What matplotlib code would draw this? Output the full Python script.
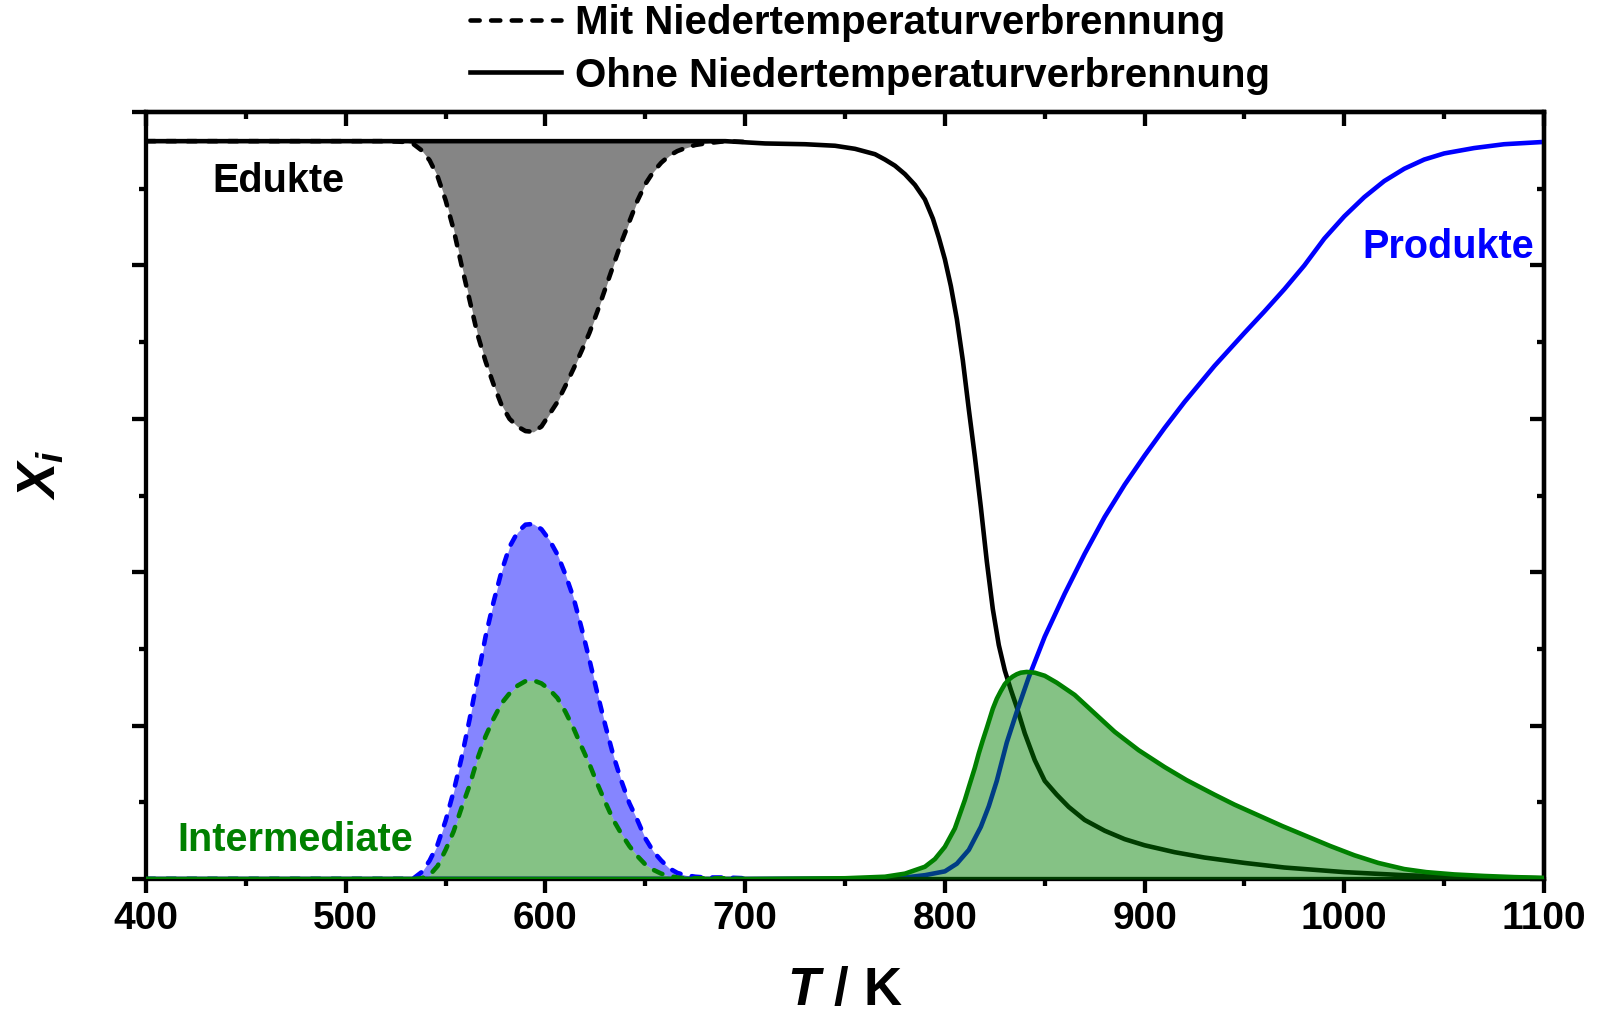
import numpy as np
import matplotlib
matplotlib.use('Agg')
import matplotlib.pyplot as plt
from matplotlib.ticker import MultipleLocator

plt.rcParams['font.family'] = ['Liberation Sans', 'DejaVu Sans']
plt.rcParams['font.weight'] = 'bold'
plt.rcParams['mathtext.fontset'] = 'custom'
plt.rcParams['mathtext.it'] = 'Liberation Sans:italic:bold'
plt.rcParams['mathtext.rm'] = 'Liberation Sans:bold'
plt.rcParams['mathtext.bf'] = 'Liberation Sans:bold'

# --- ohne Niedertemperaturverbrennung (durchgezogen) ---
T_edukte = [400, 500, 600, 680, 690, 710, 730, 745, 755, 765, 770, 775, 780, 785, 790, 794,
            797, 800, 803, 806, 809, 812, 815, 818, 821, 824, 827, 830, 833, 836, 840, 845,
            850, 856, 862, 870, 880, 890, 900, 915, 930, 950, 970, 1000, 1030, 1060, 1100]
edukte = [0.962, 0.962, 0.962, 0.962, 0.962, 0.959, 0.958, 0.956, 0.952, 0.945, 0.938, 0.930,
          0.919, 0.905, 0.886, 0.861, 0.836, 0.808, 0.773, 0.730, 0.676, 0.612, 0.551, 0.485,
          0.414, 0.352, 0.305, 0.272, 0.247, 0.224, 0.190, 0.155, 0.128, 0.110, 0.094, 0.077,
          0.063, 0.052, 0.044, 0.035, 0.028, 0.021, 0.015, 0.009, 0.005, 0.0025, 0.001]

T_produkte = [400, 700, 760, 780, 790, 800, 806, 812, 818, 822, 826, 831, 836, 842, 850, 860,
              870, 880, 890, 900, 910, 920, 935, 950, 960, 970, 980, 990, 1000, 1010, 1020,
              1030, 1040, 1050, 1065, 1080, 1100]
produkte = [0.0, 0.0, 0.0005, 0.002, 0.005, 0.010, 0.020, 0.038, 0.068, 0.095, 0.128, 0.178,
            0.218, 0.263, 0.316, 0.372, 0.424, 0.472, 0.514, 0.552, 0.588, 0.622, 0.669, 0.712,
            0.740, 0.769, 0.800, 0.835, 0.864, 0.889, 0.910, 0.926, 0.938, 0.946, 0.953, 0.958,
            0.961]

T_inter = [400, 700, 750, 770, 780, 790, 795, 800, 805, 810, 812, 815, 817, 819, 821, 824, 826,
           828, 830, 832, 834, 836, 838, 841, 845, 850, 856, 865, 875, 885, 897, 910, 921, 935,
           945, 957, 969, 981, 993, 1005, 1017, 1030, 1041, 1055, 1070, 1085, 1100]
inter = [0.0, 0.0, 0.001, 0.003, 0.007, 0.016, 0.026, 0.042, 0.066, 0.103, 0.120, 0.145, 0.164,
         0.181, 0.197, 0.222, 0.235, 0.245, 0.254, 0.260, 0.264, 0.267, 0.269, 0.270, 0.269,
         0.265, 0.256, 0.240, 0.216, 0.192, 0.168, 0.146, 0.129, 0.110, 0.097, 0.083, 0.069,
         0.056, 0.043, 0.031, 0.021, 0.013, 0.009, 0.006, 0.004, 0.0025, 0.0015]

# --- mit Niedertemperaturverbrennung (gestrichelt) ---
T_mit = [400, 520, 530, 534, 538, 542, 546, 550, 554, 558, 562, 566, 570, 574, 578, 582, 586,
         590, 594, 598, 602, 606, 610, 614, 618, 622, 626, 630, 634, 638, 642, 646, 650, 654,
         658, 662, 666, 670, 675, 680, 690, 700]
edukte_mit = [0.962, 0.962, 0.961, 0.958, 0.950, 0.937, 0.916, 0.885, 0.847, 0.800, 0.755,
              0.710, 0.675, 0.645, 0.618, 0.600, 0.590, 0.584, 0.583, 0.590, 0.606, 0.622,
              0.643, 0.665, 0.688, 0.712, 0.740, 0.770, 0.800, 0.830, 0.857, 0.884, 0.906,
              0.922, 0.934, 0.943, 0.949, 0.953, 0.957, 0.959, 0.962, 0.961]
produkte_mit = [0.0, 0.0, 0.0, 0.001, 0.009, 0.024, 0.045, 0.076, 0.114, 0.158, 0.208, 0.262,
                0.316, 0.361, 0.401, 0.433, 0.452, 0.462, 0.463, 0.456, 0.442, 0.423, 0.397,
                0.367, 0.328, 0.286, 0.242, 0.200, 0.161, 0.128, 0.099, 0.077, 0.053, 0.036,
                0.024, 0.014, 0.008, 0.005, 0.003, 0.002, 0.002, 0.001]
inter_mit = [0.0, 0.0, 0.0, 0.0, 0.001, 0.005, 0.017, 0.038, 0.062, 0.093, 0.122, 0.157, 0.186,
             0.209, 0.229, 0.242, 0.252, 0.258, 0.259, 0.255, 0.247, 0.236, 0.218, 0.197,
             0.173, 0.150, 0.124, 0.100, 0.077, 0.059, 0.043, 0.030, 0.019, 0.012, 0.007,
             0.004, 0.002, 0.001, 0.001, 0.001, 0.001, 0.0]

lw = 3.3
dash = (0, (2.0, 2.5))
axw = 3.1

fig = plt.figure(figsize=(16.03, 10.22), dpi=100)
ax = fig.add_axes([0.0911, 0.1399, 0.8721, 0.7505])

# Flaechen
plateau = np.interp(T_mit, T_edukte, edukte)
ax.fill_between(T_mit, edukte_mit, plateau, color='black', alpha=0.48, lw=0, zorder=1)
ax.fill_between(T_mit, inter_mit, produkte_mit, color='blue', alpha=0.48, lw=0, zorder=1)
ax.fill_between(T_mit, 0, inter_mit, color='green', alpha=0.48, lw=0, zorder=1)

# Linien ohne NTV
l_ohne, = ax.plot(T_edukte, edukte, color='black', lw=lw, zorder=2,
                  label='Ohne Niedertemperaturverbrennung')
ax.plot(T_produkte, produkte, color='blue', lw=lw, zorder=2)

# Linien mit NTV
l_mit, = ax.plot(T_mit, edukte_mit, color='black', lw=lw, ls=dash, dash_capstyle='round',
                 zorder=3, label='Mit Niedertemperaturverbrennung')
ax.plot(T_mit, produkte_mit, color='blue', lw=lw, ls=dash, dash_capstyle='round', zorder=3)
ax.plot(T_mit, inter_mit, color='green', lw=lw, ls=dash, dash_capstyle='round', zorder=3)

# Intermediate ohne NTV liegt halbtransparent ueber den anderen Kurven
ax.fill_between(T_inter, 0, inter, color='green', alpha=0.48, lw=0, zorder=4)
ax.plot(T_inter, inter, color='green', lw=lw, zorder=5)

ax.text(433, 0.896, 'Edukte', color='black', fontsize=28.5, fontweight='bold', va='baseline')
ax.text(1009, 0.810, 'Produkte', color='blue', fontsize=28.5, fontweight='bold', va='baseline')
ax.text(415.5, 0.036, 'Intermediate', color='green', fontsize=28.5, fontweight='bold',
        va='baseline')

ax.set_xlim(400, 1100)
ax.set_ylim(0, 1.0)
ax.xaxis.set_major_locator(MultipleLocator(100))
ax.xaxis.set_minor_locator(MultipleLocator(50))
ax.yaxis.set_major_locator(MultipleLocator(0.2))
ax.yaxis.set_minor_locator(MultipleLocator(0.1))
ax.tick_params(which='both', width=axw, labelsize=28, top=False, right=False)
ax.tick_params(which='major', length=10, direction='out', pad=6)
ax.tick_params(which='minor', length=5, direction='out')
ax.tick_params(axis='y', labelleft=False)
for lab in ax.get_xticklabels():
    lab.set_fontweight('bold')

# gespiegelte Achsen oben/rechts mit Ticks nach innen
axt = ax.secondary_xaxis('top')
axt.xaxis.set_major_locator(MultipleLocator(100))
axt.xaxis.set_minor_locator(MultipleLocator(50))
axt.tick_params(which='both', direction='in', width=axw, labeltop=False)
axt.tick_params(which='major', length=10)
axt.tick_params(which='minor', length=5)
axt.spines['top'].set_linewidth(axw)
axr = ax.secondary_yaxis('right')
axr.yaxis.set_major_locator(MultipleLocator(0.2))
axr.yaxis.set_minor_locator(MultipleLocator(0.1))
axr.tick_params(which='both', direction='in', width=axw, labelright=False)
axr.tick_params(which='major', length=10)
axr.tick_params(which='minor', length=5)
axr.spines['right'].set_linewidth(axw)

for sp in ax.spines.values():
    sp.set_linewidth(axw)

ax.set_xlabel('$T$ / K', fontsize=38, fontweight='bold')
ax.xaxis.set_label_coords(0.5, -0.113)
ax.set_ylabel('$X_i$', fontsize=38, fontweight='bold')
ax.yaxis.set_label_coords(-0.057, 0.527)

fig.legend(handles=[l_mit, l_ohne], loc='upper left', bbox_to_anchor=(470 / 1603, 0.996),
           frameon=False, handlelength=2.25, handletextpad=0.35,
           labelspacing=0.36, borderpad=0, borderaxespad=0,
           prop={'weight': 'bold', 'size': 29})

fig.savefig('out.png', dpi=100)
